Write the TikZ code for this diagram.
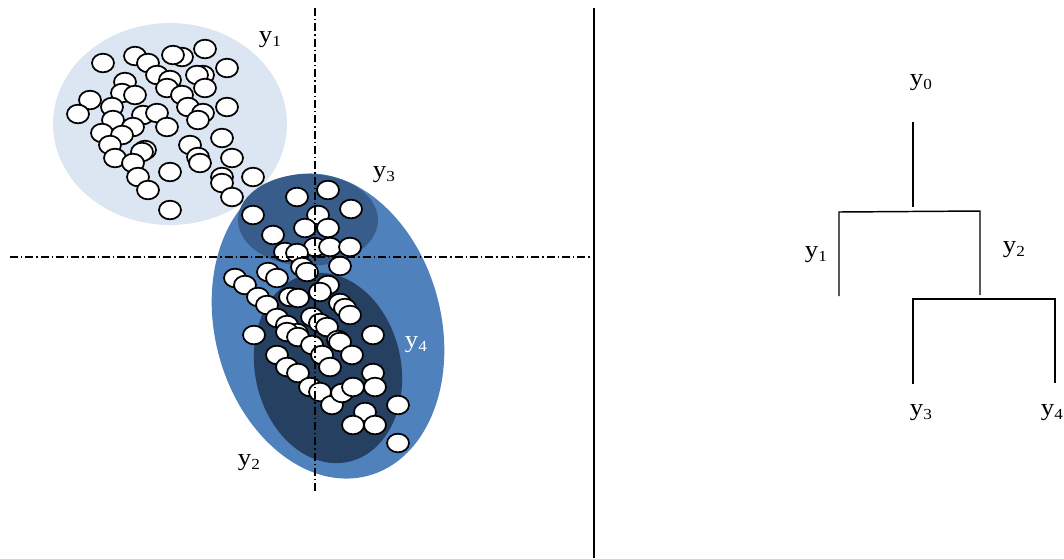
\documentclass[tikz,border=0pt]{standalone}
\usepackage{fontspec}
\setmainfont{Liberation Serif}[FakeStretch=1.12]
\definecolor{lightblue}{RGB}{220,230,242}
\definecolor{midblue}{RGB}{79,129,189}
\definecolor{darkblue}{RGB}{56,93,138}
\definecolor{deepblue}{RGB}{37,64,97}
\newcommand{\ylab}[1]{y\raisebox{-0.3ex}{\fontsize{11.5}{12}\selectfont #1}}
\begin{document}
\begin{tikzpicture}[x=0.75pt,y=-0.75pt,
  dotshape/.style={draw=black,fill=white,line width=1.3pt},
  axisline/.style={line width=0.9pt,dash pattern=on 6pt off 2.2pt on 1.1pt off 2.2pt},
  treeline/.style={line width=1.1pt},
  lab/.style={font=\fontsize{18}{20}\selectfont,inner sep=0pt}]
\useasboundingbox (0,0) rectangle (1064,558);
% clusters
\fill[lightblue] (170,124) ellipse (117 and 101);
\fill[midblue,rotate around={15:(328,326)}] (328,326) ellipse (113 and 155);
\fill[darkblue] (308,220) ellipse (70 and 46);
\fill[deepblue,rotate around={12:(328,368)}] (328,368) ellipse (73 and 96);
% points of cluster y1
\foreach \p in {(103,63),(135,56),(148,63),(182,57),(173,55),(205,49),(227,68),(125,82),(157,75),(170,80),(167,88),(203,75),(197,75),(205,88),(182,95),(90,100),(78,114),(122,93),(112,107),(135,95),(143,115),(157,113),(167,127),(188,107),(203,113),(198,120),(227,107),(113,120),(133,127),(102,133),(122,135),(110,145),(115,158),(145,150),(142,152),(133,163),(138,177),(148,190),(170,172),(190,145),(198,157),(200,163),(222,138),(232,158),(222,177),(222,183),(232,197),(253,177),(170,210)}
  \draw[dotshape] \p ellipse (11 and 9.3);
% points of cluster y2
\foreach \p in {(297,197),(328,190),(351,209),(253,215),(318,215),(273,235),(305,228),(328,228),(315,247),(330,247),(350,247),(285,252),(297,253),(340,266),(302,267),(307,272),(235,278),(245,285),(268,272),(277,278),(258,297),(267,305),(290,297),(298,298),(328,285),(320,292),(340,303),(345,308),(350,315),(312,317),(320,323),(327,327),(277,318),(287,325),(297,333),(254,335),(338,340),(373,335),(287,332),(298,337),(312,345),(322,355),(340,342),(352,355),(277,355),(287,367),(298,373),(330,367),(310,387),(320,392),(332,405),(342,393),(353,387),(373,373),(375,387),(365,412),(353,425),(375,425),(398,405),(398,443)}
  \draw[dotshape] \p ellipse (11 and 9.3);
% axes
\coordinate (vtop) at (315,8);
\coordinate (vbot) at (315,492);
\coordinate (hl) at (10,257);
\coordinate (hr) at (592,257);
\draw[axisline] (vtop) -- (vbot);
\draw[axisline] (hl) -- (hr);
% divider
\coordinate (dtop) at (594,8);
\coordinate (dbot) at (594,558);
\draw[line width=1.2pt] (dtop) -- (dbot);
% cluster labels
\node[lab] (c1) at (270,40) {\ylab{1}};
\node[lab] (c3) at (384,175) {\ylab{3}};
\node[lab,text=white] (c4) at (416,345) {\ylab{4}};
\node[lab] (c2) at (249,463) {\ylab{2}};
% tree
\node[lab] (t0) at (921,83) {\ylab{0}};
\node[lab] (t1) at (816,255) {\ylab{1}};
\node[lab] (t2) at (1014,250) {\ylab{2}};
\node[lab] (t3) at (921,413) {\ylab{3}};
\node[lab] (t4) at (1052,413) {\ylab{4}};
\coordinate (r0) at (913,122);
\coordinate (r1) at (913,207);
\coordinate (bl) at (839,212);
\coordinate (br) at (980,211);
\coordinate (bl2) at (839,296);
\coordinate (br2) at (980,295);
\coordinate (cl) at (913,299);
\coordinate (cr) at (1055,299);
\coordinate (cl2) at (913,384);
\coordinate (cr2) at (1055,383);
\draw[treeline] (r0) -- (r1);
\draw[treeline] (bl2) -- (bl) -- (br) -- (br2);
\draw[treeline] (cl2) -- (cl) -- (cr) -- (cr2);
\end{tikzpicture}
\end{document}
